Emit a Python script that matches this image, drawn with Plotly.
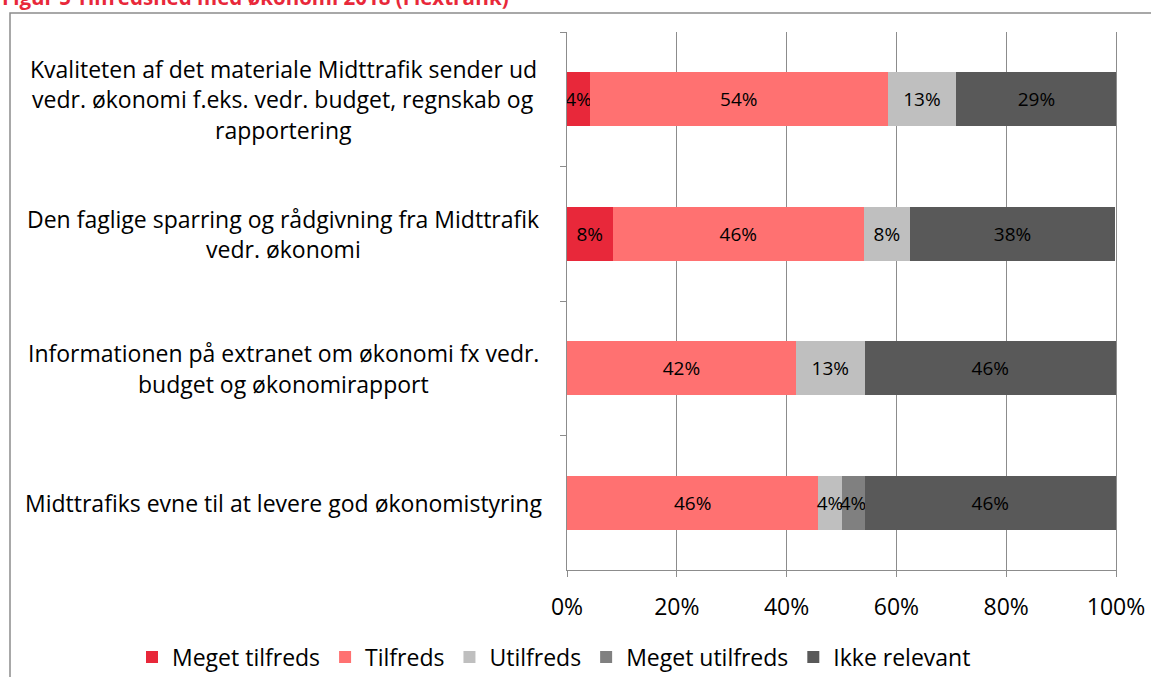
import plotly.graph_objects as go

# ---- data ----
categories = [
    "Kvaliteten af det materiale Midttrafik sender ud<br>vedr. økonomi f.eks. vedr. budget, regnskab og<br>rapportering",
    "Den faglige sparring og rådgivning fra Midttrafik<br>vedr. økonomi",
    "Informationen på extranet om økonomi fx vedr.<br>budget og økonomirapport",
    "Midttrafiks evne til at levere god økonomistyring",
]
series_names = ["Meget tilfreds", "Tilfreds", "Utilfreds", "Meget utilfreds", "Ikke relevant"]
meget_tilfreds = [4.2, 8.3, 0, 0]
tilfreds = [54.2, 45.8, 41.7, 45.8]
utilfreds = [12.5, 8.3, 12.5, 4.2]
meget_utilfreds = [0, 0, 0, 4.2]
ikke_relevant = [29.2, 37.5, 45.8, 45.8]
x_ticks = [0, 20, 40, 60, 80, 100]
x_tick_labels = ["0%", "20%", "40%", "60%", "80%", "100%"]
title_text = "Figur 5 Tilfredshed med økonomi 2018 (Flextrafik)"

colors = ["#E8283A", "#FF7171", "#BFBFBF", "#808080", "#595959"]
values = [meget_tilfreds, tilfreds, utilfreds, meget_utilfreds, ikke_relevant]

FONT = "Open Sans"
W, H = 1151, 677
L, R, T, B = 567, 1116, 32, 570  # plot area pixel box


def px_x(p):
    return (p - L) / (R - L)


def px_y(p):
    return (B - p) / (B - T)


fig = go.Figure()
for name, vals, col in zip(series_names, values, colors):
    fig.add_trace(go.Bar(
        name=name, y=categories, x=vals, orientation="h",
        marker=dict(color=col, line=dict(width=0)),
        text=[f"{int(v + 0.5)}%" if v > 0 else "" for v in vals],
        textposition="inside", insidetextanchor="middle", textangle=0,
        constraintext="none",
        textfont=dict(family=FONT, size=19, color="#000000"),
        hoverinfo="skip",
    ))

grid_col = "#8C8C8C"
fig.update_layout(
    width=W, height=H,
    margin=dict(l=L, r=W - R, t=T, b=H - B, autoexpand=False),
    barmode="stack", bargap=0.6,
    paper_bgcolor="white", plot_bgcolor="white",
    font=dict(family=FONT, size=23, color="#000000"),
    showlegend=True,
    legend=dict(orientation="h", xref="paper", yref="paper",
                x=px_x(132), xanchor="left",
                y=px_y(657), yanchor="middle",
                font=dict(family=FONT, size=23), itemwidth=30,
                traceorder="normal", bgcolor="rgba(0,0,0,0)"),
    xaxis=dict(range=[0, 100], tickvals=x_ticks, ticktext=x_tick_labels,
               showgrid=True, gridcolor=grid_col, gridwidth=1,
               showline=True, linecolor=grid_col, linewidth=1,
               ticks="outside", ticklen=6, tickcolor=grid_col,
               zeroline=False, ticklabelstandoff=10,
               tickfont=dict(family=FONT, size=23)),
    yaxis=dict(type="category", range=[3.5, -0.5],
               showticklabels=False, showgrid=False,
               showline=True, linecolor=grid_col, linewidth=1,
               mirror=True,
               ticks="outside", ticklen=6, tickcolor=grid_col,
               tickson="boundaries", zeroline=False),
)

# category labels, centred lines
for cat in categories:
    lines = cat.split("<br>")
    n = len(lines)
    for i, line in enumerate(lines):
        fig.add_annotation(
            xref="paper", yref="y", x=px_x(283), y=cat,
            text=line, showarrow=False, xanchor="center", yanchor="middle",
            yshift=((n - 1) / 2 - i) * 30.5,
            font=dict(family=FONT, size=23, color="#000000"),
        )

# title (clipped at top like reference)
fig.add_annotation(
    xref="paper", yref="paper", x=px_x(0), y=px_y(12.5),
    xanchor="left", yanchor="bottom", showarrow=False,
    text=f"<b>{title_text}</b>",
    font=dict(family=FONT, size=20.5, color="#E8283A"),
)

# chart frame
fig.add_shape(type="rect", xref="paper", yref="paper",
              x0=px_x(10), x1=px_x(1200), y0=px_y(13), y1=px_y(700),
              line=dict(color="#8C8C8C", width=1.5), fillcolor="rgba(0,0,0,0)",
              layer="below")

fig.write_html("out.html", config={"displayModeBar": False},
               post_script="document.body.style.margin='0';document.body.style.overflow='hidden';")
